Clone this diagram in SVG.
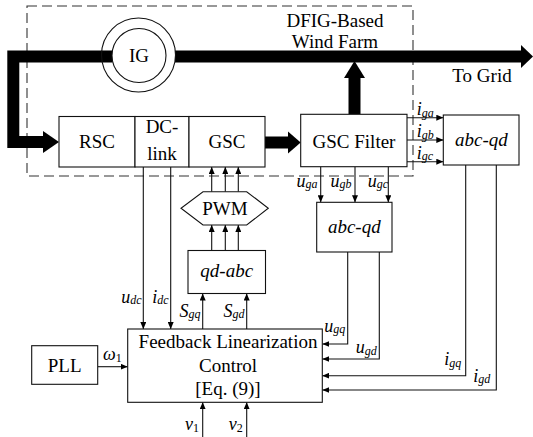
<svg xmlns="http://www.w3.org/2000/svg" width="533" height="437" viewBox="0 0 533 437">
<style>
  .box{fill:#fff;stroke:#111;stroke-width:1.1}
  .ln{fill:none;stroke:#111;stroke-width:1.1}
  .bus{fill:none;stroke:#000;stroke-width:12;stroke-linejoin:miter}
  .t{font-family:"Liberation Serif","Times New Roman",serif;font-size:19px;fill:#000}
  .ti{font-family:"Liberation Serif","Times New Roman",serif;font-size:19px;font-style:italic;fill:#000}
  .lab{font-family:"Liberation Serif","Times New Roman",serif;font-size:18px;font-style:italic;fill:#000}
  .sub{font-size:12px}
</style>
<defs>
  <marker id="ah" markerUnits="userSpaceOnUse" markerWidth="7" markerHeight="6" refX="7" refY="3" orient="auto">
    <path d="M0,0 L7,3 L0,6 z" fill="#000"/>
  </marker>
</defs>
<rect width="533" height="437" fill="#fff"/>

<!-- dashed boundary -->
<rect id="boundary" x="27" y="6" width="386" height="170" fill="none" stroke="#333" stroke-width="1.1" stroke-dasharray="10,5"/>
<text class="t" x="335" y="27" text-anchor="middle">DFIG-Based</text>
<text class="t" x="335" y="48" text-anchor="middle">Wind Farm</text>
<text class="t" x="482" y="82" text-anchor="middle">To Grid</text>

<g id="connectors">
  <!-- power bus -->
  <path class="bus" d="M112.5,56.5 H13.3 V142 H44"/>
  <polygon points="43,131 59,142 43,153" fill="#000"/>
  <path class="bus" d="M175,56.5 H522"/>
  <polygon points="521,45 533,56.5 521,68" fill="#000"/>
  <!-- GSC to filter -->
  <path class="bus" d="M265,142.5 H289"/>
  <polygon points="288,131.5 300.7,142.5 288,153.5" fill="#000"/>
  <!-- filter up to bus -->
  <path class="bus" d="M354.5,114.3 V77"/>
  <polygon points="344,78 354.5,61 365,78" fill="#000"/>

  <!-- i_ga, i_gb, i_gc -->
  <line class="ln" x1="407" y1="117.7" x2="443.3" y2="117.7" marker-end="url(#ah)"/>
  <line class="ln" x1="407" y1="140" x2="443.3" y2="140" marker-end="url(#ah)"/>
  <line class="ln" x1="407" y1="161.7" x2="443.3" y2="161.7" marker-end="url(#ah)"/>
  <!-- u_ga, u_gb, u_gc -->
  <line class="ln" x1="320.7" y1="166.7" x2="320.7" y2="202.3" marker-end="url(#ah)"/>
  <line class="ln" x1="355" y1="166.7" x2="355" y2="202.3" marker-end="url(#ah)"/>
  <line class="ln" x1="388.3" y1="166.7" x2="388.3" y2="202.3" marker-end="url(#ah)"/>
  <!-- PWM to GSC -->
  <line class="ln" x1="211.7" y1="191.7" x2="211.7" y2="167" marker-end="url(#ah)"/>
  <line class="ln" x1="225.3" y1="191.7" x2="225.3" y2="167" marker-end="url(#ah)"/>
  <line class="ln" x1="238.3" y1="191.7" x2="238.3" y2="167" marker-end="url(#ah)"/>
  <!-- qd-abc to PWM -->
  <line class="ln" x1="211.7" y1="250.5" x2="211.7" y2="225" marker-end="url(#ah)"/>
  <line class="ln" x1="225.3" y1="250.5" x2="225.3" y2="225" marker-end="url(#ah)"/>
  <line class="ln" x1="238.3" y1="250.5" x2="238.3" y2="225" marker-end="url(#ah)"/>
  <!-- S_gq, S_gd -->
  <line class="ln" x1="202.7" y1="329" x2="202.7" y2="293.5" marker-end="url(#ah)"/>
  <line class="ln" x1="246.7" y1="329" x2="246.7" y2="293.5" marker-end="url(#ah)"/>
  <!-- u_dc, i_dc -->
  <line class="ln" x1="143.3" y1="167" x2="143.3" y2="329" marker-end="url(#ah)"/>
  <line class="ln" x1="170.7" y1="167" x2="170.7" y2="329" marker-end="url(#ah)"/>
  <!-- omega -->
  <line class="ln" x1="97.7" y1="366.7" x2="127.7" y2="366.7" marker-end="url(#ah)"/>
  <!-- v1, v2 -->
  <line class="ln" x1="202.7" y1="437" x2="202.7" y2="402.3" marker-end="url(#ah)"/>
  <line class="ln" x1="246.7" y1="437" x2="246.7" y2="402.3" marker-end="url(#ah)"/>
  <!-- feedback lines -->
  <path class="ln" d="M347.7,251.7 V344 H322.3" marker-end="url(#ah)"/>
  <path class="ln" d="M379.3,251.7 V359 H322.3" marker-end="url(#ah)"/>
  <path class="ln" d="M465.7,165 V375.7 H322.3" marker-end="url(#ah)"/>
  <path class="ln" d="M496.3,165 V390 H322.3" marker-end="url(#ah)"/>
</g>

<g id="IG">
  <circle cx="138.5" cy="55" r="37" fill="none" stroke="#111" stroke-width="1.1"/>
  <circle cx="139" cy="55.5" r="27" fill="#fff" stroke="#111" stroke-width="1.1"/>
  <text class="t" x="139" y="62" text-anchor="middle">IG</text>
</g>

<g id="RSC">
  <rect class="box" x="59" y="116.5" width="76" height="50.5"/>
  <text class="t" x="97" y="148.3" text-anchor="middle">RSC</text>
</g>
<g id="DClink">
  <rect class="box" x="135" y="116.5" width="54" height="50.5"/>
  <text class="t" x="162" y="133.3" text-anchor="middle">DC-</text>
  <text class="t" x="162" y="159.5" text-anchor="middle">link</text>
</g>
<g id="GSC">
  <rect class="box" x="189" y="116.5" width="76" height="50.5"/>
  <text class="t" x="227" y="148.3" text-anchor="middle">GSC</text>
</g>
<g id="GSCFilter">
  <rect class="box" x="300.7" y="114.3" width="106.3" height="52.4"/>
  <text class="t" x="354" y="148.3" text-anchor="middle">GSC Filter</text>
</g>
<g id="abcqd1">
  <rect class="box" x="443.3" y="115" width="75.7" height="50"/>
  <text class="ti" x="481.5" y="146" text-anchor="middle">abc-qd</text>
</g>
<g id="abcqd2">
  <rect class="box" x="316.7" y="202.3" width="75.3" height="49.7"/>
  <text class="ti" x="354.3" y="233" text-anchor="middle">abc-qd</text>
</g>
<g id="PWM">
  <polygon class="box" points="203,191.7 246.7,191.7 268.3,208.3 246.7,225 203,225 181,208.3"/>
  <text class="t" x="225" y="214.8" text-anchor="middle">PWM</text>
</g>
<g id="qdabc">
  <rect class="box" x="188" y="250.5" width="77.5" height="43"/>
  <text class="ti" x="226.7" y="276.5" text-anchor="middle">qd-abc</text>
</g>
<g id="FLC">
  <rect class="box" x="127.7" y="329" width="194.6" height="73.3"/>
  <text class="t" x="228" y="348" text-anchor="middle">Feedback Linearization</text>
  <text class="t" x="228" y="371.5" text-anchor="middle">Control</text>
  <text class="t" x="228" y="395" text-anchor="middle">[Eq. (9)]</text>
</g>
<g id="PLL">
  <rect class="box" x="31.7" y="345.7" width="66" height="38.6"/>
  <text class="t" x="64.7" y="371.7" text-anchor="middle">PLL</text>
</g>

<g id="labels">
  <text class="lab" x="416.7" y="115"><tspan>i</tspan><tspan class="sub" dy="1.5">ga</tspan></text>
  <text class="lab" x="416.7" y="137"><tspan>i</tspan><tspan class="sub" dy="1.5">gb</tspan></text>
  <text class="lab" x="416.7" y="158.7"><tspan>i</tspan><tspan class="sub" dy="1.5">gc</tspan></text>
  <text class="lab" x="317.5" y="186.5" text-anchor="end"><tspan>u</tspan><tspan class="sub" dy="1.5">ga</tspan></text>
  <text class="lab" x="351.5" y="186.5" text-anchor="end"><tspan>u</tspan><tspan class="sub" dy="1.5">gb</tspan></text>
  <text class="lab" x="388" y="186.5" text-anchor="end"><tspan>u</tspan><tspan class="sub" dy="1.5">gc</tspan></text>
  <text class="lab" x="141.7" y="302.5" text-anchor="end"><tspan>u</tspan><tspan class="sub" dy="1.5">dc</tspan></text>
  <text class="lab" x="168.5" y="302.5" text-anchor="end"><tspan>i</tspan><tspan class="sub" dy="1.5">dc</tspan></text>
  <text class="lab" x="200.5" y="316.5" text-anchor="end"><tspan>S</tspan><tspan class="sub" dy="1.5">gq</tspan></text>
  <text class="lab" x="244.5" y="316.5" text-anchor="end"><tspan>S</tspan><tspan class="sub" dy="1.5">gd</tspan></text>
  <text class="lab" x="324.3" y="331.5"><tspan>u</tspan><tspan class="sub" dy="1.5">gq</tspan></text>
  <text class="lab" x="355.7" y="353"><tspan>u</tspan><tspan class="sub" dy="1.5">gd</tspan></text>
  <text class="lab" x="444.3" y="365"><tspan>i</tspan><tspan class="sub" dy="1.5">gq</tspan></text>
  <text class="lab" x="473.3" y="381.7"><tspan>i</tspan><tspan class="sub" dy="1.5">gd</tspan></text>
  <text class="lab" x="103" y="360"><tspan>ω</tspan><tspan class="sub" dy="1.5" font-style="normal">1</tspan></text>
  <text class="lab" x="185" y="430"><tspan>v</tspan><tspan class="sub" dy="2" font-style="normal">1</tspan></text>
  <text class="lab" x="228.7" y="430"><tspan>v</tspan><tspan class="sub" dy="2" font-style="normal">2</tspan></text>
</g>
</svg>
